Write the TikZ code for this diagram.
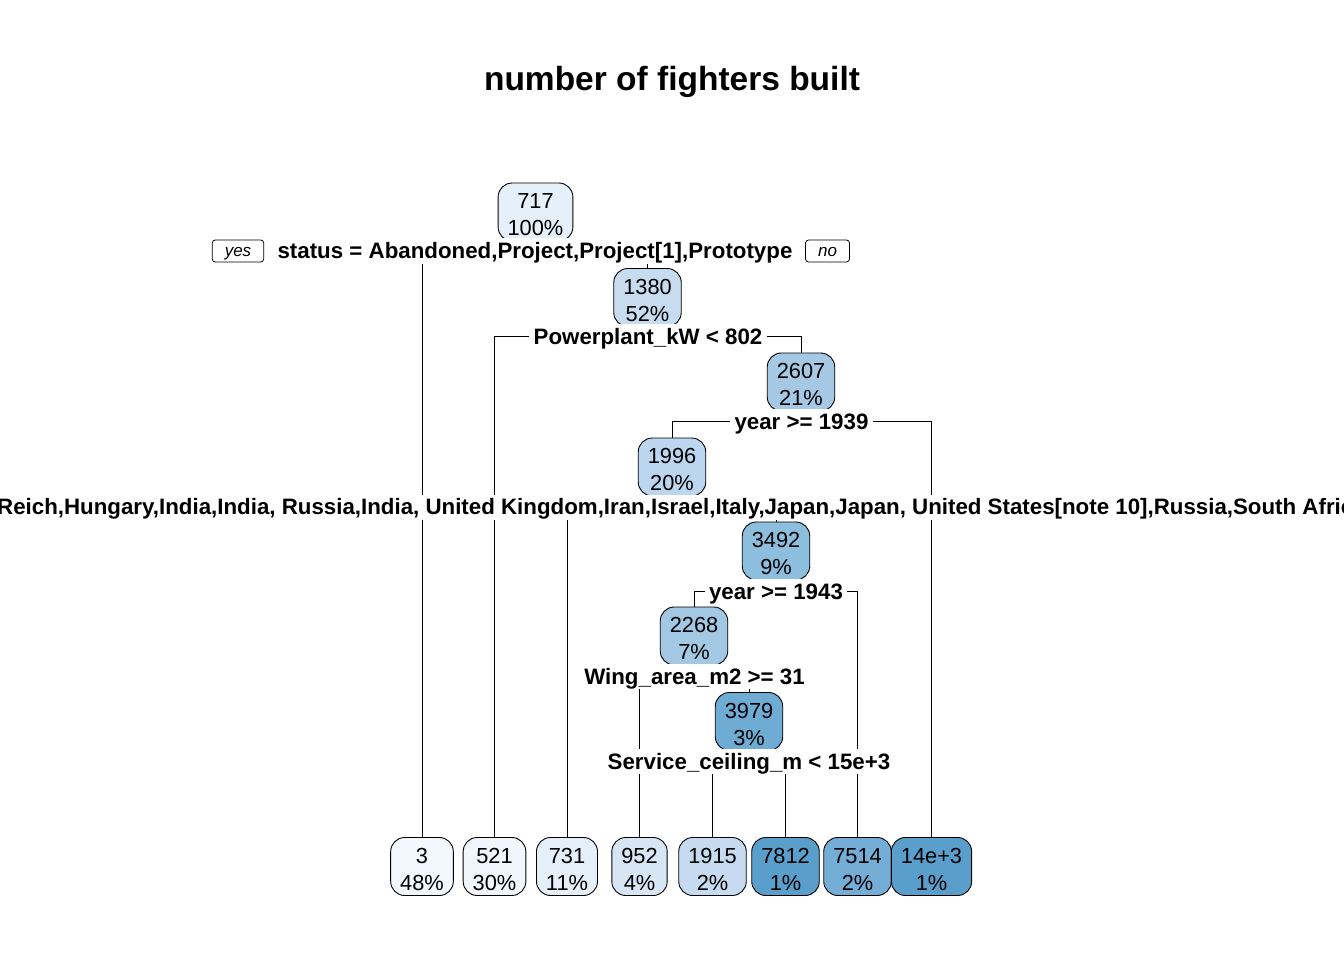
\documentclass[tikz,border=0pt]{standalone}
\usepackage{fontspec}
\setmainfont{Liberation Sans}
\usetikzlibrary{backgrounds}
\definecolor{cA}{HTML}{E6F0FA}
\definecolor{cB}{HTML}{C8DCF0}
\definecolor{cC}{HTML}{A5C9E4}
\definecolor{cD}{HTML}{BBD6EE}
\definecolor{cE}{HTML}{8DBEDD}
\definecolor{cF}{HTML}{A3C8E3}
\definecolor{cG}{HTML}{6FACD4}
\definecolor{l1}{HTML}{F3F8FE}
\definecolor{l2}{HTML}{F1F6FC}
\definecolor{l3}{HTML}{E5EFF9}
\definecolor{l4}{HTML}{D7E6F4}
\definecolor{l5}{HTML}{C6DBEF}
\definecolor{l6}{HTML}{5A9ECB}
\definecolor{l7}{HTML}{74ADD5}
\definecolor{l8}{HTML}{5A9FCC}
\newcommand\tstr{\rule{0pt}{21pt}}
\begin{document}
\begin{tikzpicture}[x=1pt,y=-1pt,
  tn/.style={draw, line width=0.9pt, rounded corners=14pt, align=center,
    font=\fontsize{21.8}{27}\selectfont, minimum height=58pt,
    inner xsep=9.5pt, inner ysep=0pt},
  lab/.style={fill=white, font=\bfseries\fontsize{22.3}{26}\selectfont,
    text height=17pt, text depth=2pt, inner xsep=4pt, inner ysep=3pt},
  yn/.style={draw, line width=0.8pt, rounded corners=3pt,
    font=\itshape\fontsize{17}{17}\selectfont, minimum height=22pt,
    inner xsep=12.5pt, inner ysep=0pt, text height=12pt, text depth=2pt},
  br/.style={line width=0.9pt}]
\useasboundingbox (0,0) rectangle (1344,960);
\clip (0,0) rectangle (1344,960);

\node[font=\bfseries\fontsize{33.5}{40}\selectfont, anchor=base] (title) at (672,91) {number of fighters built};

% internal nodes
\node[tn, fill=cA] (n717) at (535.5,212) {\tstr 717\\100\%};
\node[tn, fill=cB] (n1380) at (647.5,297.5) {\tstr 1380\\52\%};
\node[tn, fill=cC] (n2607) at (801,382) {\tstr 2607\\21\%};
\node[tn, fill=cD] (n1996) at (672,467) {\tstr 1996\\20\%};
\node[tn, fill=cE] (n3492) at (776,551) {\tstr 3492\\9\%};
\node[tn, fill=cF] (n2268) at (694,636) {\tstr 2268\\7\%};
\node[tn, fill=cG] (n3979) at (749,721.5) {\tstr 3979\\3\%};

% leaves
\node[tn, fill=l1] (f3) at (422,866.5) {\tstr 3\\48\%};
\node[tn, fill=l2] (f521) at (494.5,866.5) {\tstr 521\\30\%};
\node[tn, fill=l3] (f731) at (567,866.5) {\tstr 731\\11\%};
\node[tn, fill=l4] (f952) at (639.5,866.5) {\tstr 952\\4\%};
\node[tn, fill=l5] (f1915) at (712.5,866.5) {\tstr 1915\\2\%};
\node[tn, fill=l6] (f7812) at (785.5,866.5) {\tstr 7812\\1\%};
\node[tn, fill=l7] (f7514) at (857.5,866.5) {\tstr 7514\\2\%};
\node[tn, fill=l8] (f14) at (931.5,866.5) {\tstr 14e+3\\1\%};

% split labels
\node[lab] (s1) at (535,251) {status = Abandoned,Project,Project[1],Prototype};
\node[yn] (yes) at (238,251) {yes};
\node[yn] (no) at (827.5,251) {no};
\node[lab] (s2) at (648,336.5) {Powerplant\_kW < 802};
\node[lab] (s3) at (801.5,421.5) {year >= 1939};
\node[lab, anchor=west, inner xsep=0pt] (s4) at (-3,507) {Reich,Hungary,India,India, Russia,India, United Kingdom,Iran,Israel,Italy,Japan,Japan, United States[note 10],Russia,South Afric};
\node[lab] (s5) at (776,591.5) {year >= 1943};
\node[lab] (s6) at (694.5,676.5) {Wing\_area\_m2 >= 31};
\node[lab] (s7) at (749,761.5) {Service\_ceiling\_m < 15e+3};

\begin{scope}[on background layer]
\fill[white] (0,0) rectangle (1344,960);
\draw[br] (f3.north |- s1.south) -- (f3.north);
\draw[br] (n1380.north |- s1.south) -- (n1380.north);
\draw[br] (s2.west) -| (f521.north);
\draw[br] (s2.east) -| (n2607.north);
\draw[br] (s3.west) -| (n1996.north);
\draw[br] (s3.east) -| (f14.north);
\draw[br] (f731.north |- s4.south) -- (f731.north);
\draw[br] (n3492.north |- s4.south) -- (n3492.north);
\draw[br] (s5.west) -| (n2268.north);
\draw[br] (s5.east) -| (f7514.north);
\draw[br] (f952.north |- s6.south) -- (f952.north);
\draw[br] (n3979.north |- s6.south) -- (n3979.north);
\draw[br] (f1915.north |- s7.south) -- (f1915.north);
\draw[br] (f7812.north |- s7.south) -- (f7812.north);
\end{scope}
\end{tikzpicture}
\end{document}
